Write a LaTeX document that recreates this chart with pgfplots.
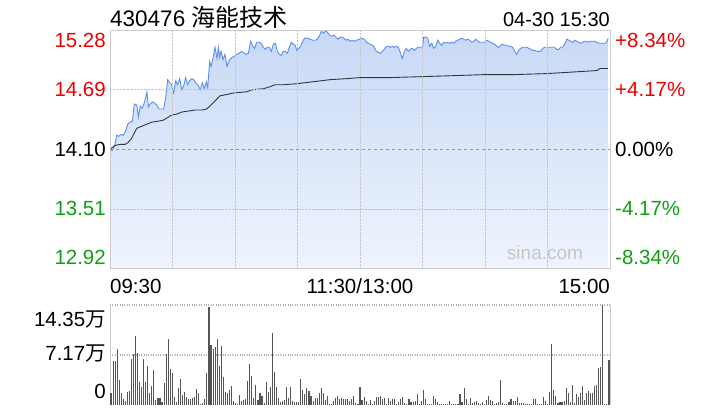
\documentclass[border=0pt]{standalone}
\usepackage{pgfplots}
\usepackage{pgfplotstable}
\pgfplotsset{compat=1.18}
\usepackage{fontspec}
\setmainfont{Liberation Sans}
\newfontfamily\cjk{Noto Sans CJK SC}
\definecolor{pline}{HTML}{5B8FF0}
\definecolor{ftop}{HTML}{C8D9F6}
\definecolor{fbot}{HTML}{EFF4FD}
\definecolor{ured}{HTML}{EE0000}
\definecolor{dgreen}{HTML}{11A011}
\definecolor{frame}{HTML}{CCCCCC}
\definecolor{avg}{HTML}{2F3642}
\definecolor{vol}{HTML}{555555}

\pgfplotstableread{
x p
0.0 14.10
1.1 14.09
2.4 14.15
3.2 14.24
4.3 14.23
5.3 14.25
6.4 14.24
7.5 14.28
8.5 14.35
9.6 14.37
10.8 14.38
11.7 14.55
12.9 14.54
13.7 14.42
14.6 14.53
15.6 14.51
16.5 14.56
17.8 14.67
18.5 14.52
19.4 14.55
20.4 14.57
21.4 14.56
22.5 14.54
23.6 14.50
24.6 14.50
25.9 14.50
26.8 14.61
27.8 14.79
28.8 14.76
29.7 14.74
30.7 14.66
31.7 14.78
32.6 14.74
33.6 14.80
34.6 14.69
35.5 14.73
36.5 14.81
37.4 14.74
38.4 14.78
39.4 14.80
40.3 14.79
41.3 14.76
42.6 14.73
43.5 14.69
44.5 14.76
45.5 14.70
46.4 14.77
47.1 14.71
48.0 14.97
48.7 14.92
49.7 15.01
50.6 15.11
51.6 15.00
52.2 15.11
52.9 15.01
53.5 15.07
54.5 14.99
55.4 15.04
56.4 14.92
57.4 14.98
58.7 15.01
59.9 15.02
61.0 15.04
62.3 15.05
63.3 15.07
64.3 15.06
65.5 15.04
66.7 15.05
67.8 15.17
68.8 15.12
69.7 15.10
70.7 15.16
72.0 15.16
72.9 15.15
73.9 15.11
74.9 15.09
75.8 15.11
76.8 15.11
77.8 15.07
78.7 15.14
79.7 15.15
80.7 15.07
81.6 15.04
82.6 15.03
83.6 15.07
84.5 15.07
85.5 15.05
86.4 15.11
87.4 15.16
88.4 15.14
89.3 15.13
90.0 15.08
90.9 15.10
91.9 15.12
92.9 15.17
93.8 15.20
95.1 15.20
96.4 15.19
97.7 15.18
99.0 15.18
99.9 15.19
100.9 15.22
101.9 15.27
102.8 15.25
103.8 15.27
104.8 15.26
105.7 15.23
106.7 15.22
107.7 15.23
108.9 15.21
109.9 15.19
110.9 15.21
111.8 15.21
112.8 15.20
113.8 15.18
114.7 15.19
115.7 15.17
116.7 15.18
117.6 15.17
118.9 15.18
120.2 15.19
121.3 15.20
122.6 15.19
123.6 15.16
124.5 15.15
125.5 15.14
126.5 15.13
127.4 15.11
128.4 15.07
129.3 15.06
130.3 15.05
131.3 15.07
132.2 15.09
133.2 15.12
134.2 15.12
135.1 15.11
136.1 15.12
137.1 15.11
138.0 15.12
139.0 15.11
139.9 15.06
140.9 15.00
141.9 15.07
142.8 15.10
143.8 15.07
144.8 15.09
145.7 15.10
146.7 15.08
147.7 15.10
148.6 15.11
149.6 15.11
150.6 15.11
151.2 15.21
152.2 15.21
153.1 15.20
154.1 15.12
155.1 15.15
156.0 15.10
157.0 15.12
158.0 15.18
158.9 15.15
159.9 15.13
160.8 15.16
161.8 15.15
162.8 15.16
163.7 15.15
164.7 15.16
165.7 15.15
166.6 15.17
167.6 15.18
168.5 15.19
169.5 15.20
170.5 15.19
171.4 15.18
172.4 15.19
173.4 15.18
174.3 15.16
175.3 15.17
176.3 15.19
177.2 15.17
178.2 15.16
179.2 15.16
180.4 15.16
181.6 15.18
182.5 15.17
183.5 15.16
184.4 15.15
185.4 15.14
186.4 15.12
187.3 15.11
188.3 15.13
189.3 15.14
190.2 15.13
191.2 15.13
192.2 15.12
193.1 15.12
194.1 15.11
195.1 15.07
196.0 15.04
197.0 15.08
198.0 15.10
198.9 15.11
199.9 15.11
200.8 15.11
201.8 15.10
202.8 15.09
203.7 15.08
204.7 15.08
205.7 15.07
206.6 15.07
207.6 15.07
208.6 15.10
209.5 15.11
210.5 15.11
211.4 15.11
212.4 15.11
213.4 15.11
214.3 15.11
215.3 15.09
216.3 15.09
217.2 15.11
218.2 15.11
219.2 15.14
220.1 15.19
221.1 15.18
222.1 15.17
223.0 15.16
224.0 15.18
225.0 15.17
225.9 15.16
226.9 15.15
227.8 15.16
228.8 15.17
229.8 15.17
230.7 15.16
231.7 15.17
232.7 15.17
233.6 15.17
234.6 15.16
235.6 15.15
236.5 15.15
237.5 15.15
238.5 15.15
239.4 15.16
240.1 15.20
}\pricetable

\pgfplotstableread{
x a
0.0 14.10
2.4 14.14
4.8 14.15
7.2 14.15
8.8 14.17
10.4 14.21
12.9 14.31
15.3 14.33
17.7 14.35
20.1 14.37
23.3 14.38
25.7 14.39
27.3 14.41
29.7 14.44
32.1 14.45
34.6 14.47
37.8 14.48
41.0 14.49
44.2 14.49
46.6 14.50
48.2 14.53
50.6 14.58
53.0 14.63
55.4 14.64
59.9 14.66
65.9 14.67
68.3 14.69
73.9 14.70
77.1 14.72
79.5 14.74
83.6 14.74
90.0 14.75
98.0 14.77
106.0 14.79
114.1 14.80
120.2 14.81
134.2 14.81
150.2 14.82
166.3 14.83
180.4 14.84
194.4 14.84
210.5 14.85
226.6 14.87
234.6 14.88
236.2 14.90
240.1 14.90
}\avgtable

\pgfplotstableread{
v
1.7
6.3
6.3
8.0
3.6
1.7
0.9
0.6
1.9
2.0
6.6
7.3
9.9
7.5
3.3
2.6
6.6
3.3
5.6
1.7
2.7
5.0
0.7
1.0
1.0
0.4
3.2
7.3
9.5
5.2
4.6
1.1
0.4
2.4
3.7
1.5
1.9
1.1
0.9
0.8
1.0
1.1
2.3
1.7
0.15
0.3
0.9
4.6
14.1
8.6
8.0
8.3
9.5
5.6
8.5
4.0
1.9
1.7
2.2
2.7
0.6
0.3
0.15
1.4
0.6
0.7
0.9
3.4
5.9
4.2
1.0
2.9
0.7
1.7
1.3
0.3
3.3
1.9
2.6
10.3
4.7
2.6
1.0
0.4
0.6
0.7
2.6
1.0
2.6
0.6
0.4
0.4
0.4
3.7
2.2
1.6
2.4
2.0
1.3
0.6
1.0
1.0
1.7
2.4
1.7
0.7
1.3
0.15
0.15
0.6
1.0
1.3
0.9
1.0
0.9
0.9
0.9
0.6
0.9
1.3
0.3
0.15
2.6
0.7
1.1
0.6
0.15
0.7
0.15
0.6
1.1
1.1
1.3
0.9
1.0
0.15
1.0
0.6
0.9
0.9
0.15
0.4
0.9
1.1
0.3
0.15
0.9
0.4
0.4
0.6
1.6
0.15
0.6
2.2
0.9
0.15
0.15
0.1
1.3
0.9
0.4
0.15
0.15
0.15
0.15
0.15
0.6
0.15
0.15
0.1
0.15
1.6
0.4
2.4
0.9
0.15
1.0
0.3
0.4
0.6
0.3
0.15
0.4
0.15
0.7
1.3
0.7
0.6
0.15
0.3
0.4
3.6
0.3
0.1
0.1
0.4
0.9
0.6
0.6
1.1
0.3
0.3
0.3
0.15
0.15
0.15
0.15
0.9
0.9
0.15
0.15
0.1
1.1
0.6
0.15
1.9
8.7
2.2
1.3
0.3
0.4
0.4
0.6
2.4
1.7
0.4
2.9
0.3
1.6
1.1
1.7
2.7
0.7
1.7
2.0
1.7
1.7
2.7
2.9
5.3
5.4
14.35
0.15
0.15
6.5
}\voltable

\newcommand\lbl{\fontsize{20.5}{24}\selectfont}

\begin{document}
\begin{tikzpicture}
\useasboundingbox (0pt,0pt) rectangle (720pt,420pt);
% price panel
\begin{axis}[
  at={(110pt,151.5pt)}, anchor=south west, scale only axis,
  width=500pt, height=238pt,
  xmin=0, xmax=241, ymin=12.924, ymax=15.276,
  axis on top,
  axis line style={frame, line width=0.8pt},
  xtick={30.125,60.25,90.375,120.5,150.625,180.75,210.875},
  ytick={13.51,14.69},
  xticklabels={}, yticklabels={},
  major tick length=0pt,
  grid=major,
  grid style={densely dotted, black!22, line width=0.7pt},
  extra y ticks={14.10}, extra y tick labels={},
  extra y tick style={grid style={dashed, gray!80, line width=0.7pt}},
]
\addplot[draw=none, top color=ftop, bottom color=fbot, forget plot]
  table[x=x, y=p] {\pricetable} -- (axis cs:240.1,12.924) -- (axis cs:0,12.924) -- cycle;
\addplot[pline, line width=0.9pt, mark=none] table[x=x, y=p] {\pricetable};
\addplot[avg, line width=0.9pt, mark=none] table[x=x, y=a] {\avgtable};
\end{axis}
% volume panel
\begin{axis}[
  at={(110pt,15pt)}, anchor=south west, scale only axis,
  width=500pt, height=100pt,
  xmin=0, xmax=245, ymin=0, ymax=14.35,
  axis line style={draw=none},
  xtick=\empty, ytick={7.17,14.35}, yticklabels={},
  major tick length=0pt,
  ymajorgrids,
  grid style={dotted, gray!60, line width=1.2pt},
  extra x ticks={0,245}, extra x tick labels={},
  extra x tick style={xmajorgrids, grid style={solid, frame, line width=0.8pt}},
  clip=false,
]
\addplot[ycomb, vol, line width=1.1pt, mark=none] table[x expr=\coordindex+0.5, y=v] {\voltable};
\end{axis}
% titles
\node[anchor=base west, inner sep=0pt] at (110pt,393pt) {\fontsize{22.5}{26}\selectfont 430476 {\cjk\fontsize{24}{26}\selectfont 海能技术}};
\node[anchor=base east, inner sep=0pt] at (610pt,393pt) {\fontsize{20}{24}\selectfont 04-30 15:30};
% left price labels
\node[anchor=east, inner sep=0pt, text=ured] at (106pt,380pt) {\lbl 15.28};
\node[anchor=east, inner sep=0pt, text=ured] at (106pt,331pt) {\lbl 14.69};
\node[anchor=east, inner sep=0pt, text=black] at (106pt,271pt) {\lbl 14.10};
\node[anchor=east, inner sep=0pt, text=dgreen] at (106pt,212pt) {\lbl 13.51};
\node[anchor=east, inner sep=0pt, text=dgreen] at (106pt,163pt) {\lbl 12.92};
% right pct labels
\node[anchor=west, inner sep=0pt, text=ured] at (615pt,380pt) {\lbl +8.34\%};
\node[anchor=west, inner sep=0pt, text=ured] at (615pt,331pt) {\lbl +4.17\%};
\node[anchor=west, inner sep=0pt, text=black] at (615pt,271pt) {\lbl 0.00\%};
\node[anchor=west, inner sep=0pt, text=dgreen] at (615pt,212pt) {\lbl -4.17\%};
\node[anchor=west, inner sep=0pt, text=dgreen] at (615pt,163pt) {\lbl -8.34\%};
% watermark
\node[anchor=center, inner sep=0pt, text=gray!45] at (545pt,167pt) {\fontsize{19}{22}\selectfont sina.com};
% time labels
\node[anchor=base west, inner sep=0pt] at (110pt,126pt) {\lbl 09:30};
\node[anchor=base, inner sep=0pt] at (360pt,126pt) {\lbl 11:30/13:00};
\node[anchor=base east, inner sep=0pt] at (610pt,126pt) {\lbl 15:00};
% volume labels
\node[anchor=east, inner sep=0pt] at (106pt,100pt) {\lbl 14.35{\cjk 万}};
\node[anchor=east, inner sep=0pt] at (106pt,66pt) {\lbl 7.17{\cjk 万}};
\node[anchor=east, inner sep=0pt] at (106pt,29pt) {\lbl 0};
\end{tikzpicture}
\end{document}
